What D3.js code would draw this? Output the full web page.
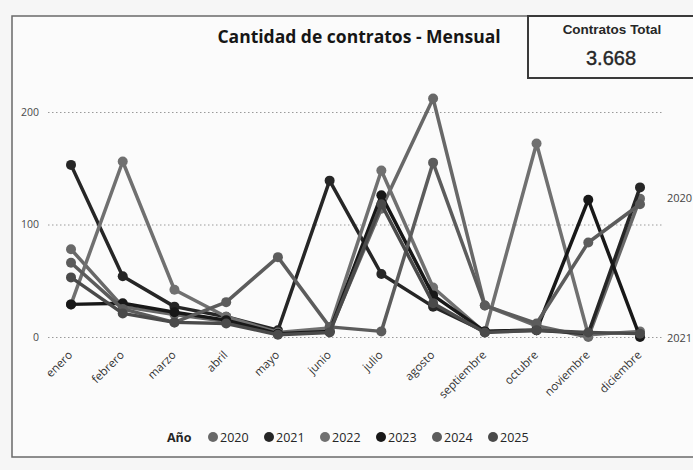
<!DOCTYPE html>
<html lang="es">
<head>
    <meta charset="UTF-8">
    <title>Cantidad de contratos - Mensual</title>
    <style>
        body {
            margin: 0;
            background: #f6f6f6;
        }

        svg {
            display: block;
        }

        text {
            font-family: 'Open Sans', 'DejaVu Sans', sans-serif;
        }

        .card text {
            font-family: 'Liberation Sans', Arial, sans-serif;
        }
    </style>
</head>
<body>

<script src="https://cdnjs.cloudflare.com/ajax/libs/d3/7.8.5/d3.min.js"></script>

<script>
    const width = 693;
    const height = 470;

    const MONTHS = ['enero', 'febrero', 'marzo', 'abril', 'mayo', 'junio', 'julio',
        'agosto', 'septiembre', 'octubre', 'noviembre', 'diciembre'];
    const YEARS = ['2020', '2021', '2022', '2023', '2024', '2025'];
    const Y_TICKS = [0, 100, 200];

    // one value per month
    const V2020 = [78, 27, 20, 14, 3, 5, 114, 212, 28, 10, 0, 123];
    const V2021 = [153, 54, 27, 18, 6, 139, 56, 27, 5, 6, 3, 133];
    const V2022 = [29, 156, 42, 18, 4, 8, 148, 44, 4, 172, 2, 5];
    const V2023 = [29, 30, 22, 15, 3, 5, 126, 37, 5, 6, 122, 0];
    const V2024 = [66, 25, 13, 31, 71, 9, 5, 155, 28, 12, 84, 118];
    const V2025 = [53, 21, 13, 12, 2, 4, 118, 30, 4, 6, 4, 3];
    const SERIES = [V2020, V2021, V2022, V2023, V2024, V2025];

    const TOTAL = '3.668';

    const COLORS = ['#686868', '#262626', '#707070', '#181818', '#5c5c5c', '#4a4a4a'];

    const MARGIN = {left: 71, right: 53, top: 112, bottom: 133};

    const SCALE = {
        x: d3.scalePoint().domain(MONTHS).range([MARGIN.left, width - MARGIN.right]),
        y: d3.scaleLinear().domain([0, 200]).range([height - MARGIN.bottom, MARGIN.top])
    };

    const svg = d3.select('body')
        .append('svg')
        .attr('width', width)
        .attr('height', height);

    function drawFrame() {
        svg.append('rect')
            .attr('x', 12).attr('y', 16)
            .attr('width', width).attr('height', 441)
            .attr('fill', '#fbfbfb')
            .attr('stroke', '#6a6a6a')
            .attr('stroke-width', 1.5);

        svg.append('text')
            .attr('x', 359).attr('y', 43)
            .attr('text-anchor', 'middle')
            .attr('font-size', 17.5)
            .attr('font-weight', 700)
            .attr('fill', '#161616')
            .text('Cantidad de contratos - Mensual');
    }

    function drawTotalCard() {
        const g = svg.append('g').classed('card', true);
        g.append('rect')
            .attr('x', 528).attr('y', 16)
            .attr('width', 180).attr('height', 62)
            .attr('fill', '#fbfbfb')
            .attr('stroke', '#3a3a3a')
            .attr('stroke-width', 2);
        g.append('text')
            .attr('x', 612).attr('y', 34)
            .attr('text-anchor', 'middle')
            .attr('font-size', 13.5)
            .attr('font-weight', 700)
            .attr('fill', '#262626')
            .text('Contratos Total');
        g.append('text')
            .attr('x', 611).attr('y', 65)
            .attr('text-anchor', 'middle')
            .attr('font-size', 20)
            .attr('fill', '#262626')
            .attr('stroke', '#262626')
            .attr('stroke-width', 0.4)
            .text(TOTAL);
    }

    function drawAxes() {
        const yAxis = svg.append('g')
            .attr('transform', `translate(${MARGIN.left - 23},0)`)
            .call(d3.axisLeft(SCALE.y).tickValues(Y_TICKS)
                .tickSize(-(width - MARGIN.left - MARGIN.right + 46))
                .tickPadding(9));
        yAxis.select('.domain').remove();
        yAxis.selectAll('line')
            .attr('stroke', '#9a9a9a')
            .attr('stroke-dasharray', '1.5,2.5');
        yAxis.selectAll('text')
            .attr('font-size', 10.5)
            .attr('fill', '#4a4a4a');

        const xAxis = svg.append('g')
            .attr('transform', `translate(0,${height - MARGIN.bottom + 6})`)
            .call(d3.axisBottom(SCALE.x).tickSize(0).tickPadding(0));
        xAxis.select('.domain').remove();
        xAxis.selectAll('text')
            .attr('font-size', 11.5)
            .attr('fill', '#333')
            .attr('text-anchor', 'end')
            .attr('dy', '0.7em')
            .attr('transform', 'translate(-4,7) rotate(-45)');
    }

    function drawLines() {
        const line = d3.line()
            .x((d, i) => SCALE.x(MONTHS[i]))
            .y(d => SCALE.y(d));

        const groups = svg.append('g')
            .selectAll('g')
            .data(SERIES)
            .enter()
            .append('g');

        groups.append('path')
            .attr('d', d => line(d))
            .attr('fill', 'none')
            .attr('stroke', (d, i) => COLORS[i])
            .attr('stroke-width', 3.5)
            .attr('stroke-linejoin', 'round');

        groups.each(function (d, i) {
            d3.select(this).selectAll('circle')
                .data(d)
                .enter()
                .append('circle')
                .attr('cx', (v, j) => SCALE.x(MONTHS[j]))
                .attr('cy', v => SCALE.y(v))
                .attr('r', 5)
                .attr('fill', COLORS[i]);
        });
    }

    function drawLegend() {
        const g = svg.append('g').attr('transform', 'translate(167,437)');
        g.append('text')
            .attr('y', 4.5)
            .attr('font-size', 12.5)
            .attr('font-weight', 700)
            .attr('fill', '#262626')
            .text('Año');

        const items = g.selectAll('.item')
            .data(YEARS)
            .enter()
            .append('g')
            .attr('transform', (d, i) => `translate(${46 + i * 56},0)`);
        items.append('circle')
            .attr('r', 5)
            .attr('fill', (d, i) => COLORS[i]);
        items.append('text')
            .attr('x', 7)
            .attr('y', 4.5)
            .attr('font-size', 12.5)
            .attr('fill', '#262626')
            .text(d => d);
    }

    function drawPageEdge() {
        // labels of the neighbouring visual, cut by the photo
        svg.selectAll('.edge')
            .data(['2020', '2021'])
            .enter()
            .append('text')
            .attr('x', 667)
            .attr('y', (d, i) => i === 0 ? 202 : 342)
            .attr('font-size', 11)
            .attr('fill', '#444')
            .text(d => d);
    }

    drawFrame();
    drawAxes();
    drawLines();
    drawTotalCard();
    drawLegend();
    drawPageEdge();
</script>
</body>
</html>
